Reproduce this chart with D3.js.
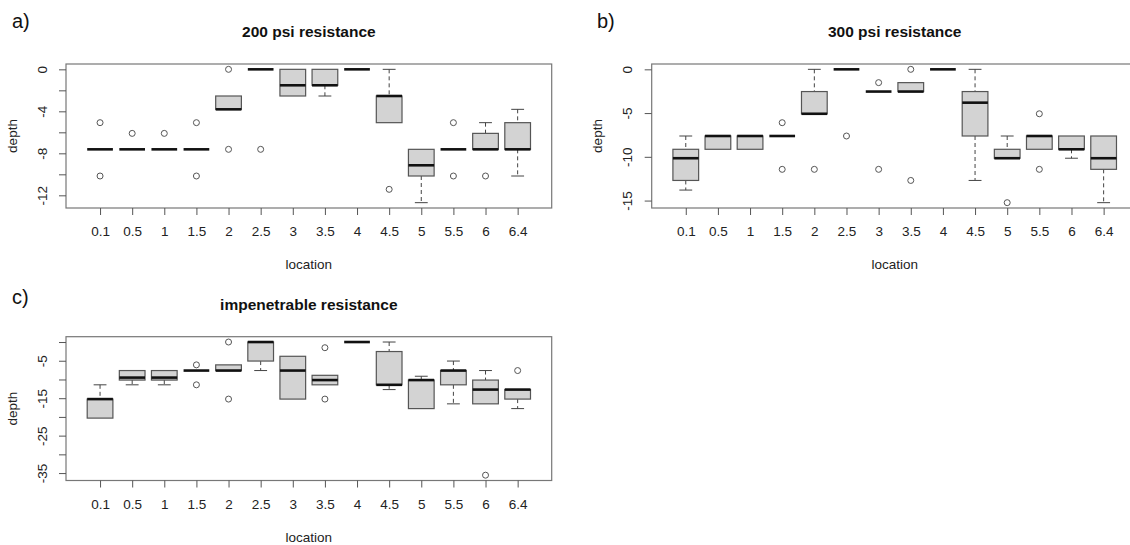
<!DOCTYPE html>
<html>
<head>
<meta charset="utf-8">
<script src="https://cdn.jsdelivr.net/npm/d3@7"></script>
<style>
  html, body { margin: 0; padding: 0; background: #fff; }
  svg { display: block; font-family: "Liberation Sans", Arial, sans-serif; }
</style>
</head>
<body>
<svg id="chart" width="1130" height="545"></svg>
<script>
// ---------------- data ----------------
const locations = ["0.1","0.5","1","1.5","2","2.5","3","3.5","4","4.5","5","5.5","6","6.4"];

// each entry: [lower whisker, Q1, median, Q3, upper whisker]
const stats200 = [
  [-7.62,-7.62,-7.62,-7.62,-7.62],
  [-7.62,-7.62,-7.62,-7.62,-7.62],
  [-7.62,-7.62,-7.62,-7.62,-7.62],
  [-7.62,-7.62,-7.62,-7.62,-7.62],
  [-3.81,-3.81,-3.81,-2.54,-2.54],
  [0,0,0,0,0],
  [-2.54,-2.54,-1.52,0,0],
  [-2.54,-1.52,-1.52,0,0],
  [0,0,0,0,0],
  [-5.08,-5.08,-2.54,-2.54,0],
  [-12.7,-10.16,-9.14,-7.62,-7.62],
  [-7.62,-7.62,-7.62,-7.62,-7.62],
  [-7.62,-7.62,-7.62,-6.1,-5.08],
  [-10.16,-7.62,-7.62,-5.08,-3.81]
];
const outliers200 = [[-5.08,-10.16],[-6.1],[-6.1],[-5.08,-10.16],[0,-7.62],[-7.62],[],[],[],[-11.43],[],[-5.08,-10.16],[-10.16],[]];

const stats300 = [
  [-13.8,-12.7,-10.16,-9.14,-7.62],
  [-9.14,-9.14,-7.62,-7.62,-7.62],
  [-9.14,-9.14,-7.62,-7.62,-7.62],
  [-7.62,-7.62,-7.62,-7.62,-7.62],
  [-5.08,-5.08,-5.08,-2.54,0],
  [0,0,0,0,0],
  [-2.54,-2.54,-2.54,-2.54,-2.54],
  [-2.54,-2.54,-2.54,-1.52,-1.52],
  [0,0,0,0,0],
  [-12.7,-7.62,-3.81,-2.54,0],
  [-10.16,-10.16,-10.16,-9.14,-7.62],
  [-9.14,-9.14,-7.62,-7.62,-7.62],
  [-10.16,-9.14,-9.14,-7.62,-7.62],
  [-15.24,-11.43,-10.16,-7.62,-7.62]
];
const outliers300 = [[],[],[],[-6.1,-11.43],[-11.43],[-7.62],[-1.52,-11.43],[0,-12.7],[],[],[-15.24],[-5.08,-11.43],[],[]];

const statsImp = [
  [-20.32,-20.32,-15.24,-15.24,-11.43],
  [-11.43,-10.16,-9.5,-7.62,-7.62],
  [-11.43,-10.16,-9.5,-7.62,-7.62],
  [-7.62,-7.62,-7.62,-7.62,-7.62],
  [-7.62,-7.62,-7.62,-6.1,-6.1],
  [-7.62,-5.08,0,0,0],
  [-15.24,-15.24,-7.62,-3.81,-3.81],
  [-11.43,-11.43,-10.16,-8.89,-8.89],
  [0,0,0,0,0],
  [-12.7,-11.43,-11.43,-2.54,0],
  [-17.78,-17.78,-10.16,-10.16,-9.14],
  [-16.51,-11.43,-7.62,-7.62,-5.08],
  [-16.51,-16.51,-12.7,-10.16,-7.62],
  [-17.78,-15.24,-12.7,-12.7,-12.7]
];
const outliersImp = [[],[],[],[-6.1,-11.43],[0,-15.24],[],[],[-1.52,-15.24],[],[],[],[],[-35.56],[-7.62]];

const ticks200 = [0,-2,-4,-6,-8,-10,-12];
const tickLabels200 = [0,-4,-8,-12];
const ticks300 = [0,-5,-10,-15];
const tickLabels300 = [0,-5,-10,-15];
const ticksImp = [0,-5,-10,-15,-20,-25,-30,-35];
const tickLabelsImp = [-5,-15,-25,-35];

const titles = ["200 psi resistance","300 psi resistance","impenetrable resistance"];
const tags = ["a)","b)","c)"];
const xLabel = "location";
const yLabel = "depth";

// ---------------- drawing ----------------
const svg = d3.select("#chart");

function drawPanel(p) {
  const g = svg.append("g");
  const n = locations.length;
  const ext = 0.04 * n;
  const x = d3.scaleLinear().domain([0.5 - ext, n + 0.5 + ext]).range([p.left, p.right]);

  const allVals = p.stats.flat().concat(p.outliers.flat());
  const lo = d3.min(allVals), hi = d3.max(allVals);
  const pad = 0.04 * (hi - lo);
  const y = d3.scaleLinear().domain([lo - pad, hi + pad]).range([p.bottom, p.top]);

  const boxW = 0.8 * (x(2) - x(1));
  const stapleW = boxW / 2;

  p.stats.forEach((s, i) => {
    const cx = x(i + 1);
    const [wl, q1, med, q3, wh] = s;
    const bg = g.append("g");
    if (wh > q3) {
      bg.append("line").attr("x1", cx).attr("x2", cx).attr("y1", y(wh)).attr("y2", y(q3))
        .attr("stroke", "#444").attr("stroke-width", 1).attr("stroke-dasharray", "4,3");
      bg.append("line").attr("x1", cx - stapleW/2).attr("x2", cx + stapleW/2).attr("y1", y(wh)).attr("y2", y(wh))
        .attr("stroke", "#444").attr("stroke-width", 1);
    }
    if (wl < q1) {
      bg.append("line").attr("x1", cx).attr("x2", cx).attr("y1", y(q1)).attr("y2", y(wl))
        .attr("stroke", "#444").attr("stroke-width", 1).attr("stroke-dasharray", "4,3");
      bg.append("line").attr("x1", cx - stapleW/2).attr("x2", cx + stapleW/2).attr("y1", y(wl)).attr("y2", y(wl))
        .attr("stroke", "#444").attr("stroke-width", 1);
    }
    if (q3 > q1) {
      bg.append("rect").attr("x", cx - boxW/2).attr("y", y(q3)).attr("width", boxW).attr("height", y(q1) - y(q3))
        .attr("fill", "#d3d3d3").attr("stroke", "#555").attr("stroke-width", 1.2);
    }
    bg.append("line").attr("x1", cx - boxW/2).attr("x2", cx + boxW/2).attr("y1", y(med)).attr("y2", y(med))
      .attr("stroke", "#111").attr("stroke-width", 2.6);
    p.outliers[i].forEach(v => {
      bg.append("circle").attr("cx", cx).attr("cy", y(v)).attr("r", 3)
        .attr("fill", "none").attr("stroke", "#555").attr("stroke-width", 1);
    });
  });

  g.append("rect").attr("x", p.left).attr("y", p.top).attr("width", p.right - p.left).attr("height", p.bottom - p.top)
    .attr("fill", "none").attr("stroke", "#777").attr("stroke-width", 1.2);

  const xAxis = d3.axisBottom(x).tickValues(d3.range(1, n + 1)).tickSize(7).tickPadding(11.5)
    .tickFormat(d => locations[d - 1]);
  const gx = g.append("g").attr("transform", `translate(0,${p.bottom})`).call(xAxis);
  gx.select(".domain").remove();
  gx.selectAll(".tick line").attr("stroke", "#555");
  gx.selectAll("text").attr("font-size", 13.5).attr("fill", "#222")
    .attr("font-family", "'Liberation Sans', Arial, sans-serif");

  const yAxis = d3.axisLeft(y).tickValues(p.ticks).tickSize(7)
    .tickFormat(d => p.tickLabels.includes(d) ? String(d) : "");
  const gy = g.append("g").attr("transform", `translate(${p.left},0)`).call(yAxis);
  gy.select(".domain").remove();
  gy.selectAll(".tick line").attr("stroke", "#555");
  gy.selectAll("text").attr("font-size", 13.5).attr("fill", "#222")
    .attr("font-family", "'Liberation Sans', Arial, sans-serif")
    .attr("x", null).attr("y", null).attr("dy", "0.35em")
    .attr("text-anchor", "middle")
    .attr("transform", "translate(-24,0) rotate(-90)");

  g.append("text").attr("x", (p.left + p.right) / 2).attr("y", p.top - 27)
    .attr("text-anchor", "middle").attr("font-weight", "bold").attr("font-size", 15.5).attr("fill", "#111")
    .text(p.title);
  g.append("text").attr("x", (p.left + p.right) / 2).attr("y", p.bottom + 61)
    .attr("text-anchor", "middle").attr("font-size", 13.5).attr("fill", "#222").text(xLabel);
  g.append("text").attr("transform", `translate(${p.left - 49.5},${(p.top + p.bottom) / 2}) rotate(-90)`)
    .attr("text-anchor", "middle").attr("font-size", 13.5).attr("fill", "#222").text(yLabel);
  g.append("text").attr("x", p.tagX).attr("y", p.tagY).attr("font-size", 20).attr("fill", "#111").text(p.tag);
}

drawPanel({stats: stats200, outliers: outliers200, ticks: ticks200, tickLabels: tickLabels200,
  title: titles[0], tag: tags[0], left: 66, right: 551.7, top: 64, bottom: 208, tagX: 12, tagY: 28});
drawPanel({stats: stats300, outliers: outliers300, ticks: ticks300, tickLabels: tickLabels300,
  title: titles[1], tag: tags[1], left: 651.7, right: 1137.7, top: 64, bottom: 208, tagX: 597, tagY: 28});
drawPanel({stats: statsImp, outliers: outliersImp, ticks: ticksImp, tickLabels: tickLabelsImp,
  title: titles[2], tag: tags[2], left: 66, right: 551.7, top: 336.7, bottom: 480.5, tagX: 12, tagY: 304});
</script>
</body>
</html>
